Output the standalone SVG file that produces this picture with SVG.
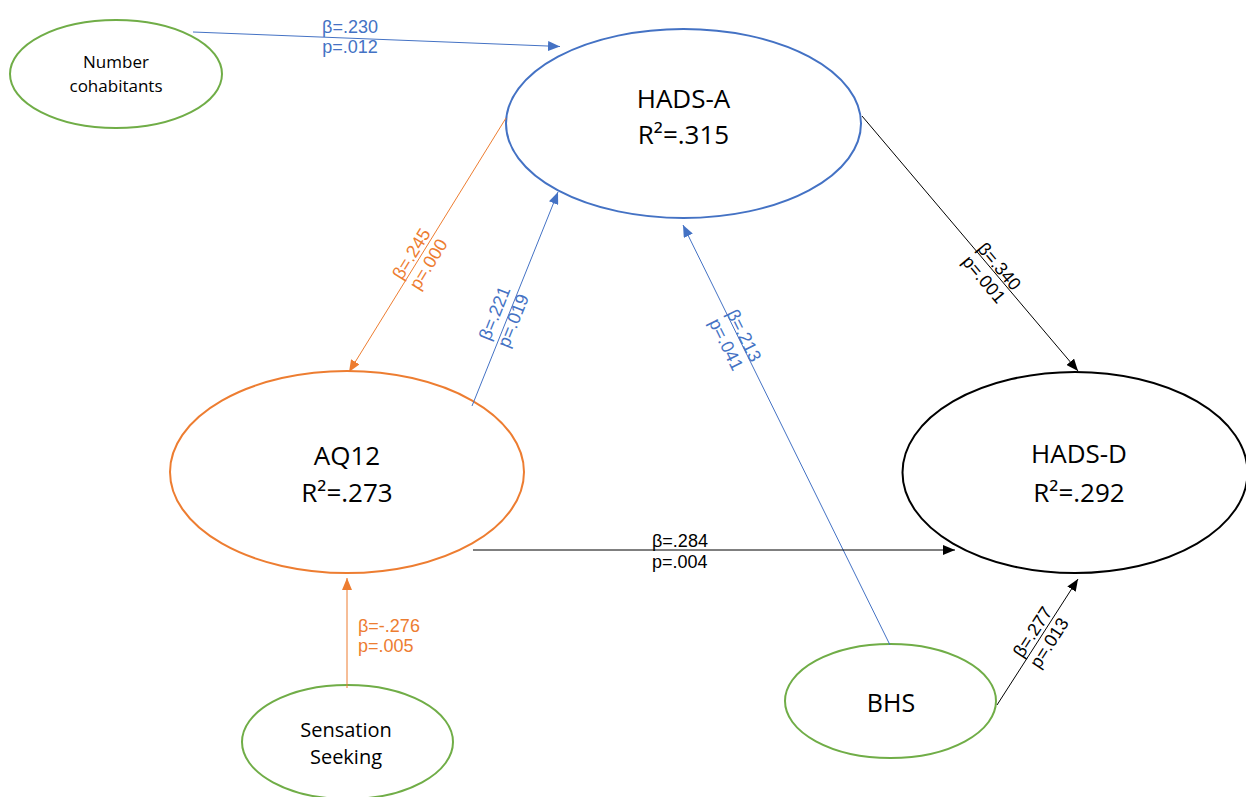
<svg xmlns="http://www.w3.org/2000/svg" width="1246" height="797" viewBox="0 0 1246 797">
<style>
.node{fill:#fff;stroke-width:2}
.g{stroke:#70AD47}.b{stroke:#4472C4}.o{stroke:#ED7D31}.k{stroke:#000}
.nt{font-family:"Open Sans","Liberation Sans",sans-serif;fill:#000;text-anchor:middle}
.lb{font-family:"Liberation Sans",Arial,sans-serif;font-size:18px}
.lbc{text-anchor:middle}
.cb{fill:#4472C4}.co{fill:#ED7D31}.ck{fill:#000}
.ln{fill:none;stroke-width:1}
</style>
<defs>
<marker id="ab" markerUnits="userSpaceOnUse" markerWidth="12" markerHeight="10" refX="12" refY="5" orient="auto"><path d="M0,0 L12,5 L0,10 z" fill="#4472C4"/></marker>
<marker id="ao" markerUnits="userSpaceOnUse" markerWidth="12" markerHeight="10" refX="12" refY="5" orient="auto"><path d="M0,0 L12,5 L0,10 z" fill="#ED7D31"/></marker>
<marker id="ak" markerUnits="userSpaceOnUse" markerWidth="12" markerHeight="10" refX="12" refY="5" orient="auto"><path d="M0,0 L12,5 L0,10 z" fill="#000"/></marker>
</defs>
<rect width="1246" height="797" fill="#fff"/>

<g id="number-cohabitants">
<ellipse class="node g" cx="116" cy="74" rx="106" ry="54"/>
<text class="nt" font-size="17" x="116" y="68">Number</text>
<text class="nt" font-size="17" x="116" y="92">cohabitants</text>
</g>
<g id="hads-a">
<ellipse class="node b" cx="683.5" cy="123.5" rx="177.5" ry="94.5"/>
<text class="nt" font-size="26" x="683.5" y="108">HADS-A</text>
<text class="nt" font-size="26" x="683.5" y="144">R²=.315</text>
</g>
<g id="aq12">
<ellipse class="node o" cx="347" cy="472" rx="177" ry="101"/>
<text class="nt" font-size="26" x="347" y="465">AQ12</text>
<text class="nt" font-size="26" x="347" y="502">R²=.273</text>
</g>
<g id="hads-d">
<ellipse class="node k" cx="1075" cy="472.5" rx="172.5" ry="100.5"/>
<text class="nt" font-size="26" x="1079" y="463">HADS-D</text>
<text class="nt" font-size="26" x="1079" y="502">R²=.292</text>
</g>
<g id="sensation-seeking">
<ellipse class="node g" cx="347.5" cy="742" rx="105.5" ry="57"/>
<text class="nt" font-size="20" x="346" y="737">Sensation</text>
<text class="nt" font-size="20" x="346" y="764">Seeking</text>
</g>
<g id="bhs">
<ellipse class="node g" cx="890.5" cy="701" rx="105.5" ry="57"/>
<text class="nt" font-size="25" x="891" y="712">BHS</text>
</g>

<g id="connectors">
<line class="ln b" x1="193" y1="32" x2="560" y2="46.5" marker-end="url(#ab)"/>
<line class="ln o" x1="506" y1="118" x2="349" y2="372" marker-end="url(#ao)"/>
<line class="ln b" x1="472" y1="406" x2="558" y2="192" marker-end="url(#ab)"/>
<line class="ln b" x1="890" y1="645" x2="683" y2="225" marker-end="url(#ab)"/>
<line class="ln k" x1="862" y1="116" x2="1078" y2="371" marker-end="url(#ak)"/>
<line class="ln k" x1="473" y1="550" x2="955" y2="550" marker-end="url(#ak)"/>
<line class="ln o" x1="347" y1="688" x2="347" y2="578" marker-end="url(#ao)"/>
<line class="ln k" x1="997" y1="705" x2="1078" y2="579" marker-end="url(#ak)"/>

<g class="lb cb lbc">
<text x="350" y="33">β=.230</text>
<text x="350" y="53">p=.012</text>
</g>
<g class="lb co lbc" transform="translate(420,259) rotate(-58.4)">
<text x="0" y="-4">β=.245</text>
<text x="0" y="16">p=.000</text>
</g>
<g class="lb cb lbc" transform="translate(504,317) rotate(-68.1)">
<text x="0" y="-4">β=.221</text>
<text x="0" y="16">p=.019</text>
</g>
<g class="lb cb lbc" transform="translate(735,340) rotate(63.8)">
<text x="0" y="-4">β=.213</text>
<text x="0" y="16">p=.041</text>
</g>
<g class="lb ck lbc" transform="translate(991.5,273) rotate(49.8)">
<text x="0" y="-4">β=.340</text>
<text x="0" y="16">p=.001</text>
</g>
<g class="lb ck lbc" transform="translate(1041,637.5) rotate(-57)">
<text x="0" y="-4">β=.277</text>
<text x="0" y="16">p=.013</text>
</g>
<g class="lb ck">
<text x="652" y="546.5">β=.284</text>
<text x="652" y="568">p=.004</text>
</g>
<g class="lb co">
<text x="358" y="632">β=-.276</text>
<text x="358" y="652">p=.005</text>
</g>
</g>
</svg>
